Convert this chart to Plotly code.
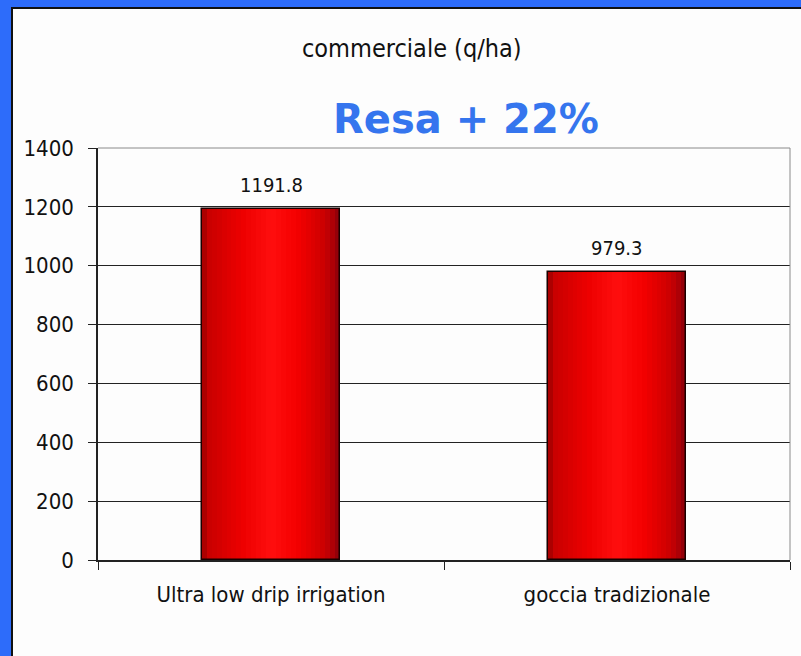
import plotly.graph_objects as go

categories = ["Ultra low drip irrigation", "goccia tradizionale"]
values = [1191.8, 979.3]
value_labels = ["1191.8", "979.3"]
y_ticks = [0, 200, 400, 600, 800, 1000, 1200, 1400]
title_text = "commerciale (q/ha)"
highlight_text = "Resa + 22%"

W, H = 801, 656
L, R, T, B = 98, 11, 148, 96
pw, ph = W - L - R, H - T - B

def px(x):
    return (x - L) / pw

def py(y):
    return (H - B - y) / ph

FONT = "Liberation Sans Narrow, DejaVu Sans Condensed, Liberation Sans, sans-serif"

stops = [(0.0, (150, 0, 0)), (0.04, (200, 0, 0)), (0.3, (238, 0, 0)),
         (0.5, (255, 14, 14)), (0.68, (245, 0, 0)), (0.86, (210, 0, 0)),
         (0.93, (185, 0, 5)), (1.0, (135, 0, 10))]

def grad(t):
    for (t0, c0), (t1, c1) in zip(stops[:-1], stops[1:]):
        if t0 <= t <= t1:
            f = (t - t0) / (t1 - t0) if t1 > t0 else 0
            return "rgb(%d,%d,%d)" % tuple(round(a + (b - a) * f) for a, b in zip(c0, c1))
    return "rgb(135,0,10)"

bw = 0.4
N = 28
fig = go.Figure()
for i in range(N):
    w = bw / N
    fig.add_trace(go.Bar(
        x=categories, y=values,
        width=w * (1.6 if i < N - 1 else 1.0),
        offset=-bw / 2 + i * w,
        marker=dict(color=grad((i + 0.5) / N), line=dict(width=0)),
        showlegend=False, hoverinfo="skip",
    ))
fig.add_trace(go.Bar(
    x=categories, y=values, width=bw, offset=-bw / 2,
    marker=dict(color="rgba(0,0,0,0)", line=dict(color="#1a0000", width=1.5)),
    showlegend=False, hoverinfo="skip",
))

for c, v, lab in zip(categories, values, value_labels):
    fig.add_annotation(x=c, y=v, text=lab, showarrow=False, yanchor="bottom",
                       yshift=10, font=dict(family=FONT, size=20, color="#111"))

fig.add_annotation(xref="paper", yref="paper", x=px(412), y=py(48), text=title_text,
                   showarrow=False, xanchor="center", yanchor="middle",
                   font=dict(family=FONT, size=25, color="#111"))
fig.add_annotation(xref="paper", yref="paper", x=px(466), y=py(119), text="<b>" + highlight_text + "</b>",
                   showarrow=False, xanchor="center", yanchor="middle",
                   font=dict(family="DejaVu Sans", size=40, color="#3575EE"))

# white inner panel on blue background
fig.add_shape(type="rect", xref="paper", yref="paper", layer="below",
              x0=px(12), x1=px(830), y0=py(8), y1=py(690),
              fillcolor="#FDFDFD", line=dict(color="#111", width=2))
# light top and right borders of plot area
fig.add_shape(type="line", xref="paper", yref="paper", x0=0, x1=1, y0=1, y1=1,
              line=dict(color="#8a8a8a", width=1))
fig.add_shape(type="line", xref="paper", yref="paper", x0=1, x1=1, y0=0, y1=1,
              line=dict(color="#8a8a8a", width=1))

fig.update_layout(
    width=W, height=H, margin=dict(l=L, r=R, t=T, b=B),
    paper_bgcolor="#2D6CFA", plot_bgcolor="rgba(0,0,0,0)",
    barmode="overlay", bargap=0,
    showlegend=False,
)
fig.update_xaxes(type="category", showline=True, linecolor="#222", linewidth=1.5,
                 ticks="outside", tickson="boundaries", ticklen=8, tickcolor="#222",
                 showgrid=False, tickfont=dict(family=FONT, size=22, color="#111"),
                 ticklabelstandoff=14)
fig.update_yaxes(range=[0, 1400], tickvals=y_ticks, showline=True, linecolor="#222",
                 linewidth=1.5, ticks="outside", ticklen=8, tickcolor="#222",
                 showgrid=True, gridcolor="#222", gridwidth=1, zeroline=False,
                 tickfont=dict(family=FONT, size=22, color="#111"),
                 ticklabelstandoff=10)

fig.write_html("out.html", config={"displayModeBar": False},
               post_script="document.body.style.margin='0';document.body.style.overflow='hidden';")
